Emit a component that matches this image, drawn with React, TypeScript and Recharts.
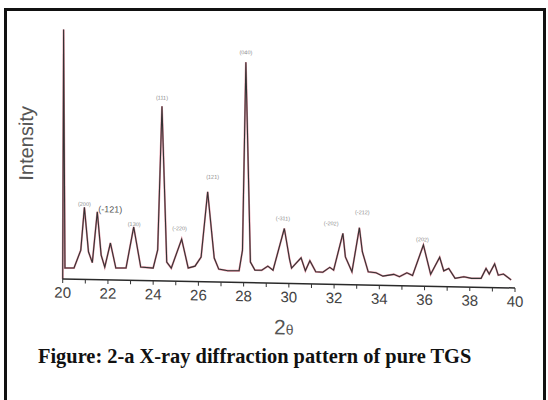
import { LineChart, Line, XAxis, YAxis, ReferenceDot } from "recharts";

// 2-theta (deg) and relative intensity (%)
const twoTheta = [
  20.0, 20.04, 20.1, 20.5, 20.8, 20.96, 21.14, 21.31, 21.53, 21.7, 21.86, 22.11, 22.35, 22.8,
  23.14, 23.45, 24.0, 24.2, 24.39, 24.6, 24.8, 25.26, 25.55, 25.85, 26.12, 26.41, 26.7, 26.9,
  27.3, 27.8, 27.95, 28.1, 28.3, 28.5, 28.8, 29.07, 29.3, 29.8, 30.03, 30.12, 30.54, 30.73,
  30.93, 31.19, 31.5, 31.81, 31.98, 32.39, 32.5, 32.79, 33.12, 33.25, 33.51, 33.85, 34.16,
  34.64, 34.89, 35.22, 35.47, 35.95, 36.27, 36.67, 36.85, 37.07, 37.35, 37.74, 38.08, 38.5,
  38.72, 38.86, 39.1, 39.26, 39.49, 39.83,
];
const intensity = [
  0, 100, 4.4, 4.5, 11.7, 28.9, 11.1, 6.8, 27.2, 9.9, 5.1, 14.8, 4.8, 4.9,
  21.4, 5.4, 5.1, 12.4, 70.0, 7.6, 5.2, 16.9, 5.4, 6.2, 9.9, 36.1, 9.6, 5.2,
  4.6, 4.7, 13.0, 88.3, 8.3, 5.1, 5.1, 6.8, 5.2, 22.0, 9.8, 6.2, 10.4, 5.2,
  9.3, 4.9, 4.8, 6.8, 5.7, 20.5, 11.1, 5.2, 22.9, 13.3, 5.3, 5.0, 3.7,
  4.5, 3.6, 5.2, 4.2, 16.5, 4.8, 11.7, 6.3, 7.3, 3.4, 4.1, 3.5, 3.6,
  7.6, 5.4, 9.5, 5.0, 5.5, 3.2,
];

// Miller index annotations
const hklText = ["(200)", "(-121)", "(130)", "(111)", "(-220)", "(121)", "(040)", "(-311)", "(-202)", "(-212)", "(202)"];
const hklTheta = [20.96, 22.1, 23.16, 24.39, 25.17, 26.63, 28.1, 29.74, 31.87, 33.25, 35.91];
const hklHeight = [30.2, 28.3, 22.5, 73.4, 21.2, 42.1, 92.2, 26.0, 24.4, 29.1, 18.7];

const xTicks = [20, 21, 22, 23, 24, 25, 26, 27, 28, 29, 30, 31, 32, 33, 34, 35, 36, 37, 38, 39, 40];

const data = twoTheta.map((t, i) => ({ t, v: intensity[i] }));

const SANS = "'Liberation Sans', Arial, sans-serif";

function IntensityLabel({ viewBox }: any) {
  const cx = viewBox.x + 26;
  const cy = viewBox.y + viewBox.height / 2 - 10;
  return (
    <text
      x={cx}
      y={cy}
      dy="0.35em"
      textAnchor="middle"
      transform={`rotate(-90, ${cx}, ${cy})`}
      fontFamily={SANS}
      fontSize={20}
      fill="#555"
    >
      Intensity
    </text>
  );
}

function ThetaLabel({ viewBox }: any) {
  return (
    <text
      x={viewBox.x + viewBox.width / 2 - 5}
      y={viewBox.y + 51}
      textAnchor="middle"
      fontFamily={SANS}
      fontSize={21}
      fill="#555"
    >
      2<tspan fontSize={14}>θ</tspan>
    </text>
  );
}

function HklLabel({ viewBox, text }: any) {
  const big = text === "(-121)";
  return (
    <text
      x={viewBox.x + viewBox.width / 2}
      y={viewBox.y + viewBox.height / 2}
      dy="0.35em"
      textAnchor="middle"
      fontFamily={SANS}
      fontSize={big ? 9 : 5.5}
      fill={big ? "#555" : "#8a8a8a"}
    >
      {text}
    </text>
  );
}

export default function App() {
  return (
    <div
      style={{
        position: "absolute",
        left: 0,
        top: 0,
        width: 548,
        height: 400,
        overflow: "hidden",
        background: "#fff",
      }}
    >
      <div
        style={{
          position: "absolute",
          left: 4,
          top: 8,
          width: 542,
          height: 420,
          border: "3px solid #111",
          boxSizing: "border-box",
        }}
      />
      <div
        style={{
          position: "absolute",
          left: 0,
          top: 0,
          transform: "skewY(1.14deg)",
          transformOrigin: "62.7px 279px",
        }}
      >
        <LineChart width={548} height={345} data={data} margin={{ top: 29.3, right: 33, left: 0, bottom: 6 }}>
          <XAxis
            dataKey="t"
            type="number"
            domain={[20, 40]}
            ticks={xTicks}
            interval={0}
            tickFormatter={(v) => (v % 2 === 0 ? String(v) : "")}
            tick={{ fontSize: 15, fill: "#444", fontFamily: SANS }}
            tickLine={{ stroke: "#333" }}
            tickSize={4}
            tickMargin={4}
            axisLine={{ stroke: "#2a2a2a", strokeWidth: 1.5 }}
            height={60}
            label={<ThetaLabel />}
          />
          <YAxis
            type="number"
            domain={[0, 100]}
            width={62.7}
            axisLine={false}
            tickLine={false}
            tick={false}
            allowDataOverflow
            label={<IntensityLabel />}
          />
          <Line
            type="linear"
            dataKey="v"
            stroke="#c8324e"
            strokeOpacity={0.55}
            strokeWidth={1.9}
            dot={false}
            isAnimationActive={false}
          />
          <Line
            type="linear"
            dataKey="v"
            stroke="#333"
            strokeWidth={1.1}
            dot={false}
            isAnimationActive={false}
          />
          {hklText.map((txt, i) => (
            <ReferenceDot
              key={txt + i}
              x={hklTheta[i]}
              y={hklHeight[i]}
              r={0}
              fill="none"
              stroke="none"
              ifOverflow="visible"
              label={<HklLabel text={txt} />}
            />
          ))}
        </LineChart>
      </div>
      <div
        style={{
          position: "absolute",
          left: 38,
          top: 346,
          fontFamily: "'Liberation Serif', 'Times New Roman', serif",
          fontWeight: "bold",
          fontSize: 20.4,
          lineHeight: "20px",
          color: "#111",
          whiteSpace: "nowrap",
        }}
      >
        Figure: 2-a X-ray diffraction pattern of pure TGS
      </div>
    </div>
  );
}
